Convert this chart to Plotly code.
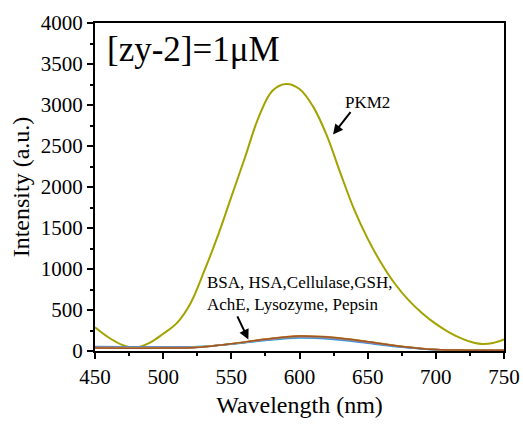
import plotly.graph_objects as go

# PKM2 spectrum
pkm2_wl = [450, 460, 470, 479, 490, 500, 510, 520, 530, 540, 550, 560, 570, 580, 590,
           600, 610, 620, 630, 640, 650, 660, 670, 680, 690, 700, 710, 720, 728, 734, 742, 750]
pkm2_int = [290, 165, 75, 42, 100, 210, 340, 580, 970, 1400, 1880, 2360, 2850, 3170, 3255,
            3195, 2980, 2630, 2170, 1730, 1370, 1070, 820, 620, 460, 330, 225, 145, 100, 85, 98, 140]

# Other analytes
low_wl = [450, 475, 500, 525, 550, 575, 600, 625, 650, 675, 700, 725, 750]
low_names = ["Pepsin", "Lysozyme", "AchE", "GSH", "Cellulase", "HSA", "BSA"]
low_vals = [
    [55, 52, 50, 54, 82, 128, 158, 140, 95, 45, 14, 7, 5],
    [50, 47, 46, 50, 84, 135, 168, 150, 102, 50, 16, 8, 6],
    [45, 43, 42, 47, 85, 138, 172, 155, 106, 52, 17, 9, 6],
    [42, 40, 40, 46, 86, 140, 176, 158, 110, 54, 18, 9, 7],
    [40, 38, 39, 46, 88, 143, 180, 162, 113, 56, 18, 10, 7],
    [38, 36, 37, 45, 90, 146, 185, 167, 117, 58, 19, 10, 8],
    [36, 35, 36, 44, 88, 144, 182, 164, 114, 56, 18, 10, 8],
]
low_colors = ["#22a7e0", "#8a6fd0", "#808080", "#e08aa0", "#3cb371", "#e0a020", "#a0522d"]

fig = go.Figure()
fig.add_trace(go.Scatter(x=pkm2_wl, y=pkm2_int, mode="lines", line=dict(color="#a3a300", width=2, shape="spline"),
                         name="PKM2", showlegend=False))
for name, vals, col in zip(low_names, low_vals, low_colors):
    fig.add_trace(go.Scatter(x=low_wl, y=vals, mode="lines", line=dict(color=col, width=1.5, shape="spline"),
                             name=name, showlegend=False))

font_family = "Liberation Serif"
axis_common = dict(showline=True, linecolor="black", linewidth=2, mirror=True, ticks="outside",
                   ticklen=6, tickwidth=1.5, tickcolor="black", showgrid=False, zeroline=False,
                   automargin=False,
                   tickfont=dict(family=font_family, size=21, color="black"))

fig.update_xaxes(range=[450, 750], tickvals=[450, 500, 550, 600, 650, 700, 750],
                 minor=dict(ticks="outside", ticklen=3, tickwidth=1.5, tickcolor="black", dtick=25, tick0=450),
                 title=dict(text="Wavelength (nm)", font=dict(family=font_family, size=24, color="black"), standoff=8),
                 **axis_common)
fig.update_yaxes(range=[0, 4000], tickvals=[0, 500, 1000, 1500, 2000, 2500, 3000, 3500, 4000],
                 minor=dict(ticks="outside", ticklen=3, tickwidth=1.5, tickcolor="black", dtick=250, tick0=0),
                 title=dict(text="Intensity (a.u.)", font=dict(family=font_family, size=24, color="black"), standoff=4),
                 **axis_common)

fig.add_annotation(x=0.025, y=0.985, xref="paper", yref="paper", xanchor="left", yanchor="top",
                   text="[zy-2]=1μM", showarrow=False, font=dict(family=font_family, size=35, color="black"))
fig.add_annotation(x=650, y=3030, xref="x", yref="y", text="PKM2", showarrow=False,
                   font=dict(family=font_family, size=17, color="black"))
fig.add_annotation(x=624.6, y=2640, ax=638.3, ay=2930, xref="x", yref="y", axref="x", ayref="y",
                   text="", showarrow=True, arrowhead=2, arrowsize=1, arrowwidth=2, arrowcolor="black")
fig.add_annotation(x=531, y=707, xref="x", yref="y", xanchor="left", yanchor="middle",
                   text="BSA, HSA,Cellulase,GSH,<br>AchE, Lysozyme, Pepsin", showarrow=False, align="left",
                   font=dict(family=font_family, size=17, color="black"))
fig.add_annotation(x=562.5, y=140, ax=553.9, ay=440, xref="x", yref="y", axref="x", ayref="y",
                   text="", showarrow=True, arrowhead=2, arrowsize=1, arrowwidth=2, arrowcolor="black")

fig.update_layout(width=523, height=424, margin=dict(l=95, r=19, t=23, b=73),
                  font=dict(family=font_family, color="black"),
                  paper_bgcolor="white", plot_bgcolor="white", showlegend=False)

fig.write_html("out.html")
